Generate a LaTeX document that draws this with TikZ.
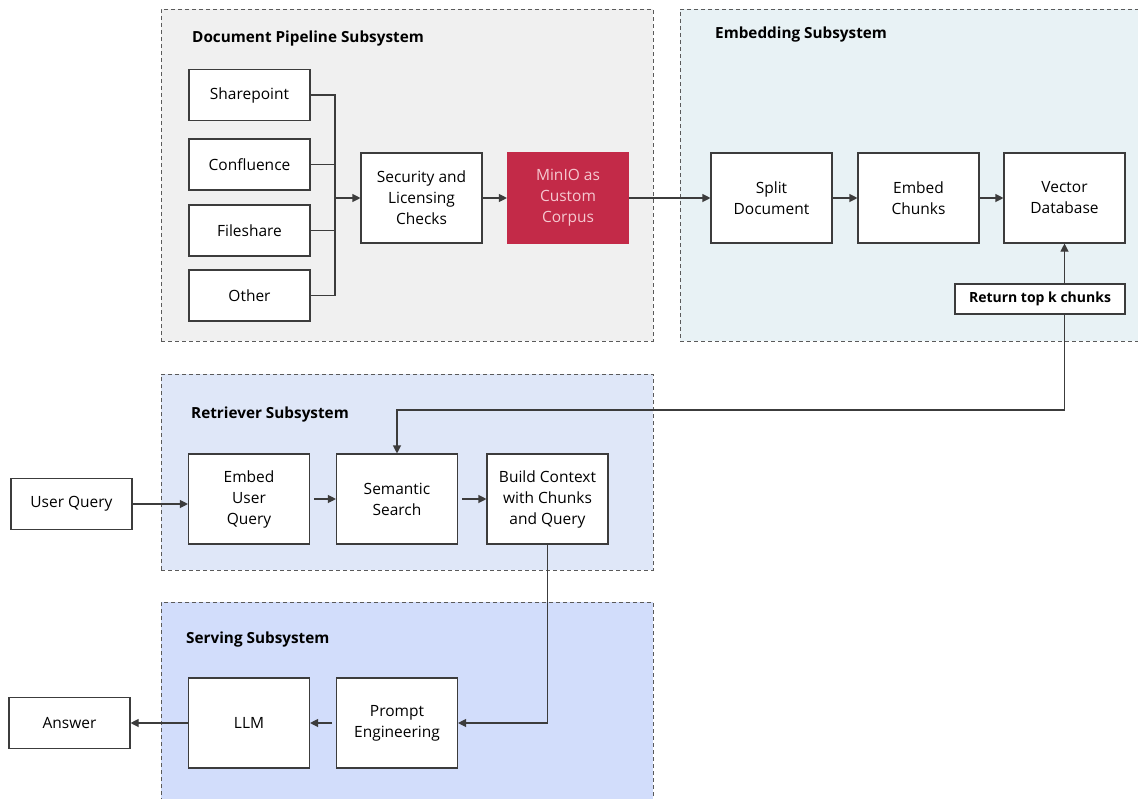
\documentclass[tikz,border=0pt]{standalone}
\usepackage{fontspec}
\setmainfont{Open Sans}
\usetikzlibrary{arrows.meta}
\definecolor{pipebg}{HTML}{F0F0F0}
\definecolor{embbg}{HTML}{E8F2F5}
\definecolor{retbg}{HTML}{DFE7F8}
\definecolor{servbg}{HTML}{D2DDFB}
\definecolor{minio}{HTML}{C32A48}
\definecolor{miniotext}{HTML}{F5C8D0}
\definecolor{edge}{HTML}{3C3C3C}
\definecolor{dashgray}{HTML}{5A5A5A}
\tikzset{
  group/.style={draw=dashgray, line width=0.9pt, dash pattern=on 4pt off 3pt, inner sep=0pt},
  grouptitle/.style={anchor=west, inner sep=0pt, font=\fontsize{15.3}{18}\selectfont\bfseries},
  stepbox/.style={draw=edge, fill=white, line width=1.1pt, minimum width=121pt, minimum height=90pt,
    inner sep=0pt, align=center, font=\fontsize{15.5}{21}\selectfont},
  srcbox/.style={stepbox, minimum height=51pt},
  line/.style={draw=edge, line width=1.1pt},
  arr/.style={line, -{Triangle[length=8pt,width=8pt]}},
}
\begin{document}
\begin{tikzpicture}[x=1pt,y=-1pt]
\useasboundingbox (0,0) rectangle (1138,798);
\clip (0,0) rectangle (1138,798);

% subsystem areas
\node[group, fill=pipebg, minimum width=492pt, minimum height=332pt] (pipe) at (407,175) {};
\node[group, fill=embbg, minimum width=480pt, minimum height=332pt] (emb) at (920,175) {};
\node[group, fill=retbg, minimum width=492pt, minimum height=196pt] (retr) at (407,472) {};
\node[group, fill=servbg, minimum width=492pt, minimum height=220pt] (serv) at (407,712) {};

\node[grouptitle] (tpipe) at (192,39) {Document Pipeline Subsystem};
\node[grouptitle] (temb) at (715,35) {Embedding Subsystem};
\node[grouptitle] (tretr) at (191,415) {Retriever Subsystem};
\node[grouptitle] (tserv) at (186,640) {Serving Subsystem};

% document pipeline
\node[srcbox] (share) at (249.5,95) {Sharepoint};
\node[srcbox] (conf) at (249.5,164.5) {Confluence};
\node[srcbox] (files) at (249.5,230.5) {Fileshare};
\node[srcbox] (other) at (249.5,295.5) {Other};
\node[stepbox] (sec) at (421.5,198) {Security and\\Licensing\\Checks};
\node[stepbox, fill=minio, draw=minio, text=miniotext] (store) at (568,198) {MinIO as\\Custom\\Corpus};

% embedding
\node[stepbox] (split) at (771.5,198) {Split\\Document};
\node[stepbox] (embc) at (918.5,198) {Embed\\Chunks};
\node[stepbox] (vec) at (1064.5,198) {Vector\\Database};
\node[stepbox, minimum width=170pt, minimum height=30pt, font=\fontsize{14}{17}\selectfont\bfseries] (ret) at (1040,299) {Return top k chunks};

% retriever
\node[srcbox] (uq) at (71.5,504) {User Query};
\node[stepbox] (euq) at (249,499) {Embed\\User\\Query};
\node[stepbox] (sem) at (397,499) {Semantic\\Search};
\node[stepbox] (build) at (547.5,499) {Build Context\\with Chunks\\and Query};

% serving
\node[srcbox] (ans) at (69.5,723) {Answer};
\node[stepbox] (llm) at (249,723) {LLM};
\node[stepbox] (prompt) at (397,723) {Prompt\\Engineering};

% connectors
\coordinate (bus) at (335,198);
\coordinate (loop) at (700,410);
\draw[line] (share.east) -| (bus);
\draw[line] (conf.east) -| (bus);
\draw[line] (files.east) -| (bus);
\draw[line] (other.east) -| (bus);
\draw[arr] (bus) -- (sec.west);
\draw[arr] (sec.east) -- (store.west);
\draw[arr] (store.east) -- (split.west);
\draw[arr] (split.east) -- (embc.west);
\draw[arr] (embc.east) -- (vec.west);
\draw[arr] (ret.north -| vec.south) -- (vec.south);
\draw[arr] (ret.south -| vec.south) |- (loop) -| (sem.north);
\draw[arr] (uq.east) -- (uq.east -| euq.west);
\draw[arr, shorten <=4pt] (euq.east) -- (sem.west);
\draw[arr, shorten <=4pt] (sem.east) -- (build.west);
\draw[arr] (build.south) |- (prompt.east);
\draw[arr, shorten <=4pt] (prompt.west) -- (llm.west -| llm.east);
\draw[arr] (llm.west) -- (ans.east);
\end{tikzpicture}
\end{document}
